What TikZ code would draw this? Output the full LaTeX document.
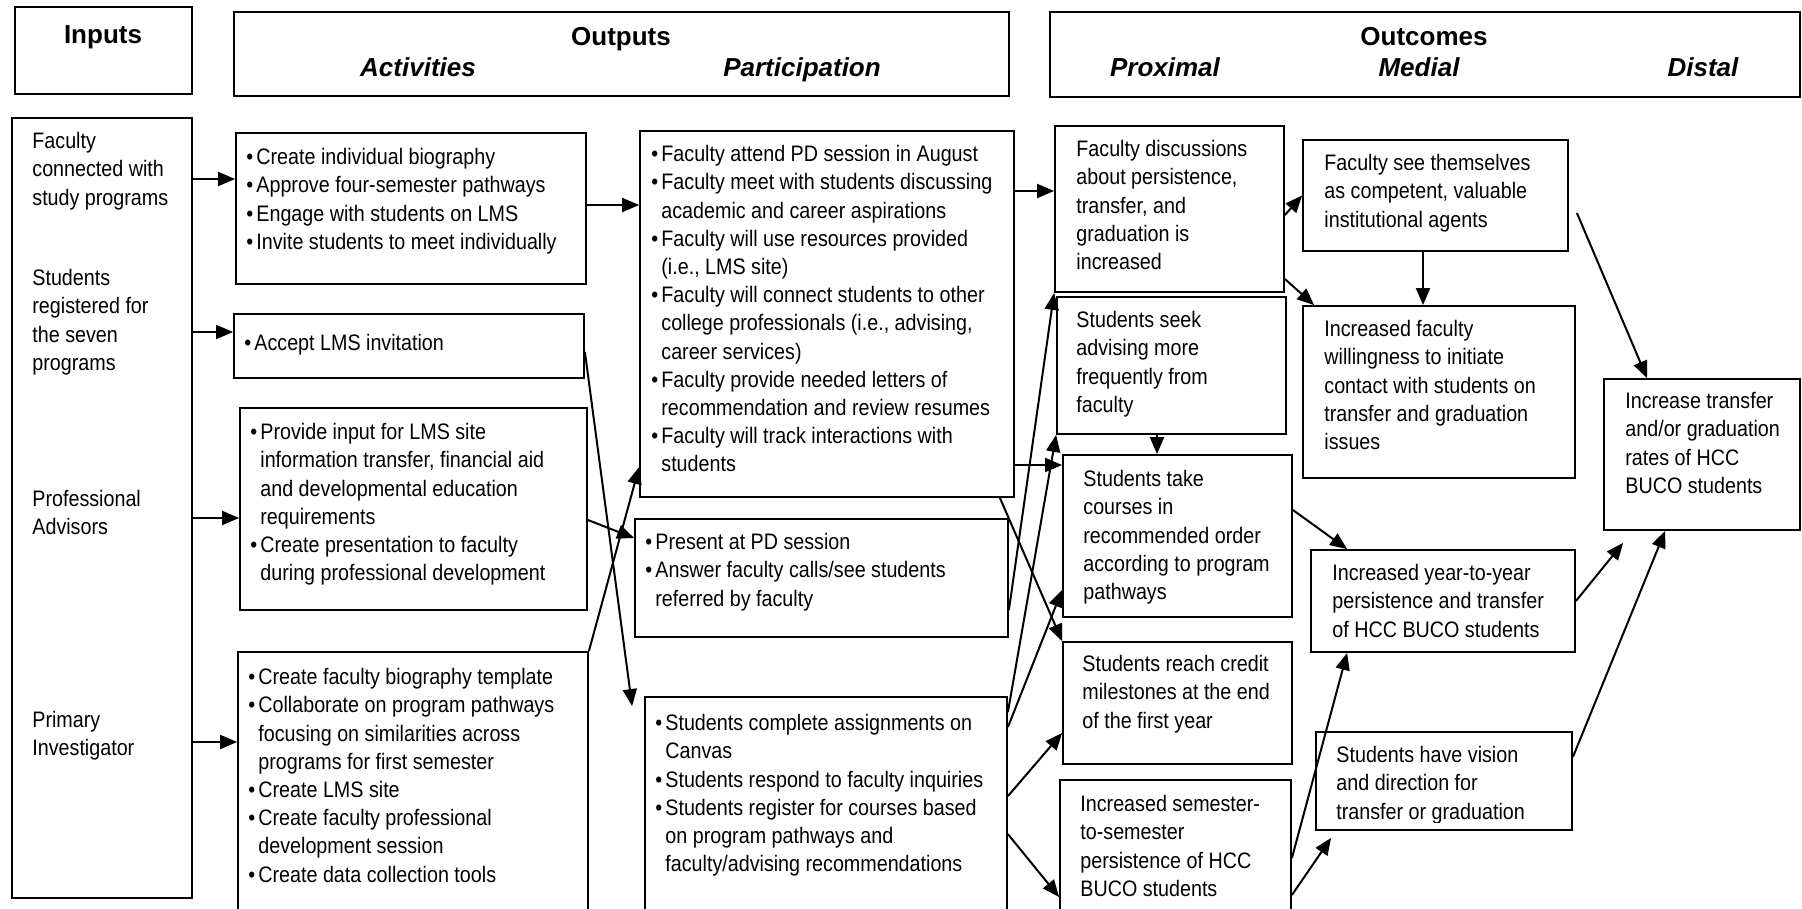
\documentclass[tikz,border=0pt]{standalone}
\usepackage{fontspec}
\setmainfont{Liberation Sans}[FakeStretch=0.88]
\newfontfamily\headfont{Liberation Sans}
\usetikzlibrary{arrows.meta,fit}

\newcommand{\bul}{\makebox[5pt][l]{\textbullet}}
\newcommand{\ind}{\hspace*{5pt}}

\begin{document}
\begin{tikzpicture}[x=0.5pt,y=-0.5pt,
  box/.style={draw,line width=0.9pt,inner sep=0pt},
  txt/.style={anchor=north west,align=left,inner sep=0pt,
    font=\fontsize{11.2}{14.1}\selectfont,execute at begin node=\strut},
  head/.style={anchor=base,inner sep=0pt,font=\headfont\fontsize{13}{15}\selectfont\bfseries},
  subhead/.style={head,font=\headfont\fontsize{13}{15}\selectfont\bfseries\itshape},
  arr/.style={-{Triangle[length=8.5pt,width=7pt]},line width=1pt}]
\useasboundingbox (0,0) rectangle (1802,909);
\clip (0,0) rectangle (1802,909);

% headings
\node[box,fit={(15,7) (192,94)}] (inhead) {};
\node[box,fit={(234,12) (1009,96)}] (outhead) {};
\node[box,fit={(1050,12) (1800,97)}] (ochead) {};
\node[head] (inputs) at (103,44) {Inputs};
\node[head] (outputs) at (621,46) {Outputs};
\node[subhead] (activities) at (418,77) {Activities};
\node[subhead] (participation) at (802,77) {Participation};
\node[head] (outcomes) at (1424,46) {Outcomes};
\node[subhead] (proximal) at (1165,77) {Proximal};
\node[subhead] (medial) at (1419,77) {Medial};
\node[subhead] (distal) at (1703,77) {Distal};

% inputs
\node[box,fit={(12,118) (192,898)}] (in) {};
\node[txt] (in1) at (32,132) {Faculty\\connected with\\study programs};
\node[txt] (in2) at (32,269) {Students\\registered for\\the seven\\programs};
\node[txt] (in3) at (32,490) {Professional\\Advisors};
\node[txt] (in4) at (32,711) {Primary\\Investigator};

% activities
\node[box,fit={(236,133) (586,284)}] (act1) {};
\node[box,fit={(234,314) (584,378)}] (act2) {};
\node[box,fit={(240,408) (587,610)}] (act3) {};
\node[box,fit={(238,652) (588,915)}] (act4) {};
\node[txt] (act1t) at (246,148) {\bul Create individual biography\\
  \bul Approve four-semester pathways\\
  \bul Engage with students on LMS\\
  \bul Invite students to meet individually};
\node[txt] (act2t) at (244,330) {\bul Accept LMS invitation};
\node[txt] (act3t) at (250,423) {\bul Provide input for LMS site\\
  \ind information transfer, financial aid\\
  \ind and developmental education\\
  \ind requirements\\
  \bul Create presentation to faculty\\
  \ind during professional development};
\node[txt] (act4t) at (248,668) {\bul Create faculty biography template\\
  \bul Collaborate on program pathways\\
  \ind focusing on similarities across\\
  \ind programs for first semester\\
  \bul Create LMS site\\
  \bul Create faculty professional\\
  \ind development session\\
  \bul Create data collection tools};

% participation
\node[box,fit={(640,131) (1014,497)}] (part1) {};
\node[box,fit={(635,519) (1008,637)}] (part2) {};
\node[box,fit={(645,697) (1007,915)}] (part3) {};
\node[txt] (part1t) at (651,145) {\bul Faculty attend PD session in August\\
  \bul Faculty meet with students discussing\\
  \ind academic and career aspirations\\
  \bul Faculty will use resources provided\\
  \ind (i.e., LMS site)\\
  \bul Faculty will connect students to other\\
  \ind college professionals (i.e., advising,\\
  \ind career services)\\
  \bul Faculty provide needed letters of\\
  \ind recommendation and review resumes\\
  \bul Faculty will track interactions with\\
  \ind students};
\node[txt] (part2t) at (645,533) {\bul Present at PD session\\
  \bul Answer faculty calls/see students\\
  \ind referred by faculty};
\node[txt] (part3t) at (655,714) {\bul Students complete assignments on\\
  \ind Canvas\\
  \bul Students respond to faculty inquiries\\
  \bul Students register for courses based\\
  \ind on program pathways and\\
  \ind faculty/advising recommendations};

% proximal
\node[box,fit={(1055,126) (1284,292)}] (prox1) {};
\node[box,fit={(1057,297) (1286,434)}] (prox2) {};
\node[box,fit={(1063,455) (1292,617)}] (prox3) {};
\node[box,fit={(1063,642) (1292,764)}] (prox4) {};
\node[box,fit={(1060,780) (1291,915)}] (prox5) {};
\node[txt] (prox1t) at (1076,140) {Faculty discussions\\about persistence,\\transfer, and\\graduation is\\increased};
\node[txt] (prox2t) at (1076,311) {Students seek\\advising more\\frequently from\\faculty};
\node[txt] (prox3t) at (1083,470) {Students take\\courses in\\recommended order\\according to program\\pathways};
\node[txt] (prox4t) at (1082,655) {Students reach credit\\milestones at the end\\of the first year};
\node[txt] (prox5t) at (1080,795) {Increased semester-\\to-semester\\persistence of HCC\\BUCO students};

% medial and distal
\node[box,fit={(1303,140) (1568,251)}] (med1) {};
\node[box,fit={(1303,306) (1575,478)}] (med2) {};
\node[box,fit={(1311,550) (1575,652)}] (med3) {};
\node[box,fit={(1316,732) (1572,830)}] (med4) {};
\node[box,fit={(1604,379) (1800,530)}] (dist1) {};
\node[txt] (med1t) at (1324,154) {Faculty see themselves\\as competent, valuable\\institutional agents};
\node[txt] (med2t) at (1324,320) {Increased faculty\\willingness to initiate\\contact with students on\\transfer and graduation\\issues};
\node[txt] (med3t) at (1332,564) {Increased year-to-year\\persistence and transfer\\of HCC BUCO students};
\begin{scope}
\clip (med4.north west) rectangle ([yshift=4pt]med4.south east);
\node[txt] (med4t) at (1336,746) {Students have vision\\and direction for\\transfer or graduation};
\end{scope}
\node[txt] (dist1t) at (1625,392) {Increase transfer\\and/or graduation\\rates of HCC\\BUCO students};

% inputs to activities
\draw[arr] ([yshift=14.75pt]act1.west -| in.east) -- ([yshift=14.75pt]act1.west);
\draw[arr] ([yshift=7pt]act2.west -| in.east) -- ([yshift=7pt]act2.west);
\draw[arr] ([yshift=-4.5pt]act3.west -| in.east) -- ([yshift=-4.5pt]act3.west);
\draw[arr] ([yshift=20.75pt]act4.west -| in.east) -- ([yshift=20.75pt]act4.west);

% activities to participation
\draw[arr] ([yshift=1.75pt]act1.east) -- ([yshift=1.75pt]act1.east -| part1.west);
\draw[arr] ([yshift=-3pt]act2.east) -- ([xshift=-6pt,yshift=-5pt]part3.north west);
\draw[arr] ([yshift=-5.5pt]act3.east) -- ([yshift=20pt]part2.west);
\draw[arr] (act4.north east) -- ([yshift=-76.5pt]part1.west);

% participation to proximal
\draw[arr] ([yshift=9pt]prox1.west -| part1.east) -- ([yshift=9pt]prox1.west);
\draw[arr] ([yshift=35.5pt]prox3.west -| part1.east) -- ([yshift=35.5pt]prox3.west);
\draw[arr] ([xshift=-7.5pt]part1.south east) -- (prox4.north west);
\draw[arr] ([yshift=-16pt]part2.east) -- (prox1.south west);
\draw[arr] ([yshift=-8pt]part3.north east) -- (prox2.south west);
\draw[arr] ([yshift=-15.5pt]part3.north east) -- ([yshift=-27pt]prox3.west);
\draw[arr] ([yshift=-50pt]part3.north east) -- ([yshift=-15pt]prox4.west);
\draw[arr] ([yshift=-69pt]part3.north east) -- ([yshift=-24.75pt]prox5.west);

% outcomes
\draw[arr] ([xshift=-7.25pt]prox2.south) -- ([xshift=-7.25pt]prox2.south |- prox3.north);
\draw[arr] ([yshift=-3pt]prox1.east) -- (med1.west);
\draw[arr] ([yshift=-35pt]prox1.east) -- ([xshift=6pt]med2.north west);
\draw[arr] ([xshift=-6.25pt]med1.south) -- ([xshift=-6.25pt]med1.south |- med2.north);
\draw[arr] ([xshift=4pt,yshift=-8.75pt]med1.east) -- ([xshift=-27.5pt]dist1.north);
\draw[arr] ([yshift=13pt]prox3.east) -- ([xshift=18.5pt]med3.north west);
\draw[arr] (med3.east) -- ([xshift=10pt,yshift=-6pt]dist1.south west);
\draw[arr] ([yshift=12pt]med4.east) -- ([xshift=31pt]dist1.south west);
\draw[arr] ([yshift=-5.25pt]prox5.east) -- ([xshift=18.5pt]med3.south west);
\draw[arr] ([yshift=-23.75pt]prox5.east) -- ([xshift=8pt,yshift=-3.5pt]med4.south west);
\end{tikzpicture}
\end{document}
